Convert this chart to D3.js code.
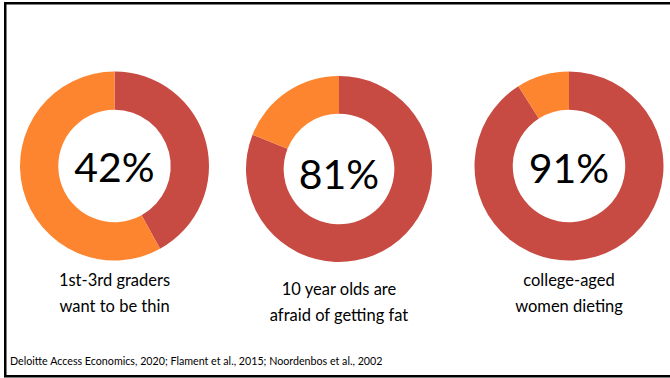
<!DOCTYPE html>
<html><head><meta charset="utf-8">
<script src="https://cdn.jsdelivr.net/npm/d3@7"></script>
<style>html,body{margin:0;padding:0;background:#fff;}svg{display:block;}</style>
</head><body>
<svg id="chart" width="670" height="378"></svg>
<script>
const percents = [42, 81, 91];
const valueLabels = ["42%", "81%", "91%"];
const captionLine1 = ["1st-3rd graders", "10 year olds are", "college-aged"];
const captionLine2 = ["want to be thin", "afraid of getting fat", "women dieting"];
const source = "Deloitte Access Economics, 2020; Flament et al., 2015; Noordenbos et al., 2002";

const centersX = [114.5, 339, 569];
const centersY = [166, 169, 166];
const outerR = [94.5, 93, 94.5];
const valueDy = [16, 20, 17];
const captionDy = [120, 126, 120];
const colors = {main: "#C84B43", rest: "#FE8530"};
const FONT = "Lato, 'Open Sans', sans-serif";

const svg = d3.select("#chart");
svg.append("rect").attr("x", 5.25).attr("y", 3.25).attr("width", 700).attr("height", 373)
  .attr("fill", "none").attr("stroke", "#000").attr("stroke-width", 2.5);

const pie = d3.pie().sort(null).value(d => d.v);

percents.forEach((p, i) => {
  const g = svg.append("g").attr("transform", `translate(${centersX[i]},${centersY[i]})`);
  const arc = d3.arc().innerRadius(outerR[i] * 0.595).outerRadius(outerR[i]);
  const data = pie([{k: "main", v: p}, {k: "rest", v: 100 - p}]);
  g.selectAll("path").data(data).join("path")
    .attr("d", arc).attr("fill", d => colors[d.data.k]);
  g.append("text").attr("text-anchor", "middle").attr("y", valueDy[i])
    .attr("font-family", FONT).attr("font-size", 41).attr("fill", "#000")
    .text(valueLabels[i]);
  g.append("text").attr("text-anchor", "middle").attr("y", captionDy[i])
    .attr("font-family", FONT).attr("font-size", 16.5).attr("fill", "#000")
    .text(captionLine1[i]);
  g.append("text").attr("text-anchor", "middle").attr("y", captionDy[i] + 26)
    .attr("font-family", FONT).attr("font-size", 16.5).attr("fill", "#000")
    .text(captionLine2[i]);
});

svg.append("text").attr("x", 10).attr("y", 365)
  .attr("font-family", FONT).attr("font-size", 10.7).attr("fill", "#000")
  .text(source);
</script>
</body></html>
